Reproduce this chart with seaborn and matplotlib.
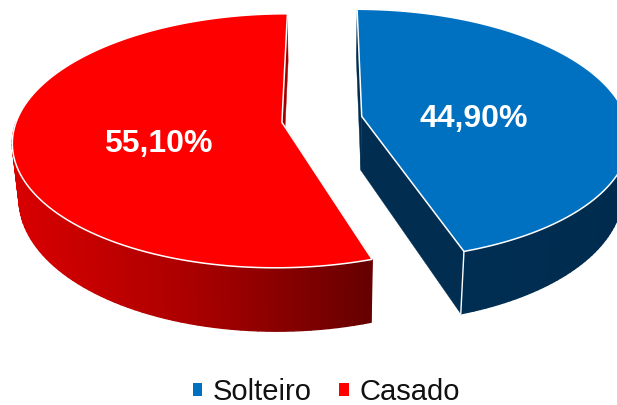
import numpy as np
import seaborn as sns
import matplotlib.pyplot as plt
from matplotlib.patches import Patch, Polygon

categories = ["Solteiro", "Casado"]
values = [44.9, 55.1]
top_colors = ["#0070C0", "#FF0000"]

sns.set_theme(style="white")
plt.rcParams['font.family'] = ['Liberation Sans', 'DejaVu Sans']

# camera used to tilt the flat pie, numbers are in output pixels
CX, CY = 320, 119.5
A, B, K = 265, 123.5, 0.145
DEPTH = 54
INSET = 0.022


def project(u, v, drop=0.0):
    w = 1 + K * v
    x = CX + (A * u / w) * (1 - INSET * drop)
    return x, CY - B * v / w + drop * DEPTH / w


def rim(wedge, n=120):
    t = np.radians(np.linspace(wedge.theta1, wedge.theta2, n))
    u0, v0 = wedge.center
    return u0 + wedge.r * np.cos(t), v0 + wedge.r * np.sin(t)


def draw_side(ax, p_a, p_b, color, z, lw=1.0):
    ax.add_patch(Polygon([project(*p_a), project(*p_b), project(*p_b, 1), project(*p_a, 1)],
                         facecolor=color, edgecolor=color, lw=lw, zorder=z))


fig, ax = plt.subplots(figsize=(6.17, 4.05), dpi=100)
fig.subplots_adjust(0, 0, 1, 1)

wedges, _ = ax.pie(values, startangle=-71.8, explode=[0.16, 0.145], colors=top_colors)
for w in wedges:
    w.set_visible(False)

ax.set_aspect('auto')
ax.set_xlim(0, 617)
ax.set_ylim(405, 0)
ax.axis('off')

side_ramps = [sns.blend_palette(["#003056", "#002B4E"], 120),
              sns.blend_palette(["#D80000", "#A80000", "#640000"], 120)]
cut_colors = ["#002D50", "#A00000"]

for wedge, ramp, cut, color in zip(wedges, side_ramps, cut_colors, top_colors):
    u, v = rim(wedge)
    center = wedge.center
    # straight cuts first, the round side goes over them
    draw_side(ax, center, (u[0], v[0]), cut, 1, lw=0.3)
    draw_side(ax, center, (u[-1], v[-1]), cut, 1, lw=0.3)

    px, py = project(u, v)
    order = np.clip((px - px.min()) / (px.max() - px.min()), 0, 1)
    for i in range(len(u) - 1):
        if v[i] > center[1] and v[i + 1] > center[1]:
            continue  # back half is hidden by the top anyway
        shade = ramp[int(order[i] * (len(ramp) - 1))]
        draw_side(ax, (u[i], v[i]), (u[i + 1], v[i + 1]), shade, 2)

    # white line down the front corner of the blue slice
    if wedge is wedges[0]:
        x0, y0 = project(u[0], v[0])
        x1, y1 = project(u[0], v[0], 1)
        ax.plot([x0, x1], [y0, y1], color="white", lw=1.0, zorder=3)

    cx0, cy0 = project(*center)
    ax.add_patch(Polygon(np.column_stack([np.r_[cx0, px], np.r_[cy0, py]]),
                         facecolor=color, edgecolor="white", lw=1.1, zorder=4))

label_pos = [(474, 119), (158, 144)]
for val, (lx, ly) in zip(values, label_pos):
    ax.text(lx, ly, f"{val:.2f}".replace(".", ",") + "%", color="white", fontsize=23,
            fontweight="bold", ha="center", va="center", zorder=5)

handles = [Patch(facecolor=c, edgecolor="none") for c in top_colors]
ax.legend(handles, categories, ncol=2, loc="lower center", bbox_to_anchor=(0.529, -0.068),
          frameon=False, fontsize=21, handlelength=0.31, handleheight=0.31,
          handletextpad=0.36, columnspacing=0.95, labelcolor="#111111")

plt.savefig("out.png", dpi=100)
